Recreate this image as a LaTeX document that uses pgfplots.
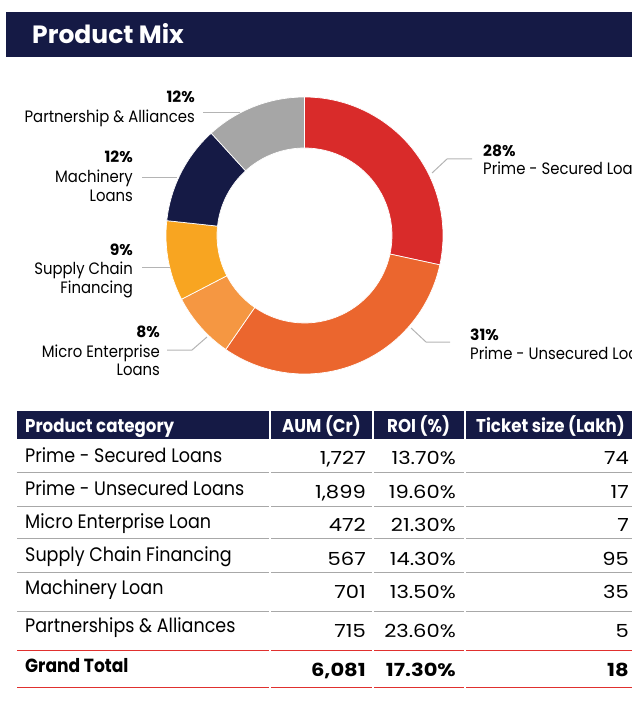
\documentclass[border=0pt]{standalone}
\usepackage{pgfplots}
\pgfplotsset{compat=1.18}
\usepackage{fontspec}
\setmainfont{Poppins}
\newfontfamily\condfont[FakeStretch=0.9]{Poppins}
\newfontfamily\widefont[FakeStretch=1.17]{Poppins}
\definecolor{navy}{HTML}{151A45}
\definecolor{cred}{HTML}{D92B2A}
\definecolor{corange}{HTML}{EB662E}
\definecolor{clorange}{HTML}{F59742}
\definecolor{cyellow}{HTML}{F8A521}
\definecolor{cgray}{HTML}{A6A6A6}
\definecolor{lead}{HTML}{B4B4B4}
\definecolor{rule}{HTML}{A8A8A8}
\definecolor{redrule}{HTML}{E0302E}
\newcommand\slice[3]{\fill[#3, draw=white, line width=0.7bp] (axis cs:304.5,235.5) ++(#1:138.5bp) arc[start angle=#1, end angle=#2, radius=138.5bp] -- ++(#2+180:51bp) arc[start angle=#2, end angle=#1, radius=87.5bp] -- cycle;}
\newcommand\fs[1]{\fontsize{#1bp}{#1bp}\selectfont}
\newcommand\hrow[2]{%
  \draw[#2, line width=1bp] (axis cs:17,#1) -- (axis cs:269,#1);
  \draw[#2, line width=1bp] (axis cs:271,#1) -- (axis cs:372,#1);
  \draw[#2, line width=1bp] (axis cs:374,#1) -- (axis cs:464,#1);
  \draw[#2, line width=1bp] (axis cs:466,#1) -- (axis cs:640,#1);}
\begin{document}
\begin{tikzpicture}
% AUM values (Cr) drive the donut
\pgfmathsetmacro\vA{1727}\pgfmathsetmacro\vB{1899}\pgfmathsetmacro\vC{472}
\pgfmathsetmacro\vD{567}\pgfmathsetmacro\vE{701}\pgfmathsetmacro\vF{715}
\pgfmathsetmacro\tot{\vA+\vB+\vC+\vD+\vE+\vF}
\pgfmathsetmacro\aA{90}
\pgfmathsetmacro\aB{\aA-\vA/\tot*360}
\pgfmathsetmacro\aC{\aB-\vB/\tot*360}
\pgfmathsetmacro\aD{\aC-\vC/\tot*360}
\pgfmathsetmacro\aE{\aD-\vD/\tot*360}
\pgfmathsetmacro\aF{\aE-\vE/\tot*360}
\pgfmathsetmacro\aG{-270}
\begin{axis}[scale only axis, width=632bp, height=706bp,
  xmin=0, xmax=632, ymin=0, ymax=706, y dir=reverse,
  hide axis, clip=true]
% title bar
\fill[navy] (axis cs:6,12) rectangle (axis cs:640,57);
\node[anchor=base west, text=white, font=\fs{25}\bfseries, inner sep=0] at (axis cs:32,44) {Product Mix};
% donut
\slice{\aA}{\aB}{cred}
\slice{\aB}{\aC}{corange}
\slice{\aC}{\aD}{clorange}
\slice{\aD}{\aE}{cyellow}
\slice{\aE}{\aF}{navy}
\slice{\aF}{\aG}{cgray}
% leader lines
\draw[lead, line width=1bp] (axis cs:203,113) -- (axis cs:240,113);
\draw[lead, line width=1bp] (axis cs:142,178) -- (axis cs:177,178);
\draw[lead, line width=1bp] (axis cs:142,267) -- (axis cs:170,267);
\draw[lead, line width=1bp] (axis cs:167,350) -- (axis cs:192,350) -- (axis cs:207,337);
\draw[lead, line width=1bp] (axis cs:432,173) -- (axis cs:447,159) -- (axis cs:472,159);
\draw[lead, line width=1bp] (axis cs:411,328) -- (axis cs:426,342) -- (axis cs:450,342);
% donut labels
\tikzset{lp/.style={inner sep=0, font=\fs{15.5}\bfseries}, ln/.style={inner sep=0, font=\condfont\fs{16.5}}}
\node[lp, anchor=base east] at (axis cs:195,103) {12\%};
\node[ln, anchor=base east] at (axis cs:195,123) {Partnership \& Alliances};
\node[lp, anchor=base east] at (axis cs:133,163) {12\%};
\node[ln, anchor=base east] at (axis cs:133,183) {Machinery};
\node[ln, anchor=base east] at (axis cs:133,202) {Loans};
\node[lp, anchor=base east] at (axis cs:133,255) {9\%};
\node[ln, anchor=base east] at (axis cs:133,274) {Supply Chain};
\node[ln, anchor=base east] at (axis cs:133,293) {Financing};
\node[lp, anchor=base east] at (axis cs:160,337) {8\%};
\node[ln, anchor=base east] at (axis cs:160,357) {Micro Enterprise};
\node[ln, anchor=base east] at (axis cs:160,375) {Loans};
\node[lp, anchor=base west] at (axis cs:483,157) {28\%};
\node[ln, anchor=base west] at (axis cs:483,175) {Prime - Secured Loans};
\node[lp, anchor=base west] at (axis cs:470,340) {31\%};
\node[ln, anchor=base west] at (axis cs:470,359) {Prime - Unsecured Loans};
% table header
\fill[navy] (axis cs:17,411) rectangle (axis cs:640,439);
\draw[white, line width=1.5bp] (axis cs:270,411) -- (axis cs:270,439);
\draw[white, line width=1.5bp] (axis cs:373,411) -- (axis cs:373,439);
\draw[white, line width=1.5bp] (axis cs:465,411) -- (axis cs:465,439);
\tikzset{hd/.style={inner sep=0, text=white, font=\condfont\fs{18.5}\bfseries}}
\node[hd, anchor=base west] at (axis cs:25,432) {Product category};
\node[hd, anchor=base west] at (axis cs:282,432) {AUM (Cr)};
\node[hd, anchor=base west] at (axis cs:387,432) {ROI (\%)};
\node[hd, anchor=base west] at (axis cs:476,432) {Ticket size (Lakh)};
% row rules
\hrow{472}{rule}
\hrow{506}{rule}
\hrow{538}{rule}
\hrow{572}{rule}
\hrow{611}{rule}
\hrow{650}{redrule}
\hrow{687}{redrule}
% rows
\tikzset{rl/.style={inner sep=0, font=\condfont\fs{19.5}}, rn/.style={inner sep=0, font=\widefont\fs{18}, anchor=base east}}
\node[rl, anchor=base west] at (axis cs:25,462) {Prime - Secured Loans};
\node[rn] at (axis cs:366,464) {1,727};
\node[rn] at (axis cs:456,464) {13.70\%};
\node[rn] at (axis cs:629,464) {74};
\node[rl, anchor=base west] at (axis cs:25,495) {Prime - Unsecured Loans};
\node[rn] at (axis cs:366,498) {1,899};
\node[rn] at (axis cs:456,498) {19.60\%};
\node[rn] at (axis cs:629,498) {17};
\node[rl, anchor=base west] at (axis cs:25,528) {Micro Enterprise Loan};
\node[rn] at (axis cs:366,531) {472};
\node[rn] at (axis cs:456,531) {21.30\%};
\node[rn] at (axis cs:629,531) {7};
\node[rl, anchor=base west] at (axis cs:25,561) {Supply Chain Financing};
\node[rn] at (axis cs:366,565) {567};
\node[rn] at (axis cs:456,565) {14.30\%};
\node[rn] at (axis cs:629,565) {95};
\node[rl, anchor=base west] at (axis cs:25,594) {Machinery Loan};
\node[rn] at (axis cs:366,598) {701};
\node[rn] at (axis cs:456,598) {13.50\%};
\node[rn] at (axis cs:629,598) {35};
\node[rl, anchor=base west] at (axis cs:25,632) {Partnerships \& Alliances};
\node[rn] at (axis cs:366,637) {715};
\node[rn] at (axis cs:456,637) {23.60\%};
\node[rn] at (axis cs:629,637) {5};
\node[rl, anchor=base west, font=\condfont\fs{19}\bfseries] at (axis cs:25,672) {Grand Total};
\node[rn, font=\widefont\fs{18}\bfseries] at (axis cs:366,676) {6,081};
\node[rn, font=\widefont\fs{18}\bfseries] at (axis cs:456,676) {17.30\%};
\node[rn, font=\widefont\fs{18}\bfseries] at (axis cs:629,676) {18};
\end{axis}
\pgfresetboundingbox
\path (current axis.south west) rectangle (current axis.north east);
\end{tikzpicture}
\end{document}
